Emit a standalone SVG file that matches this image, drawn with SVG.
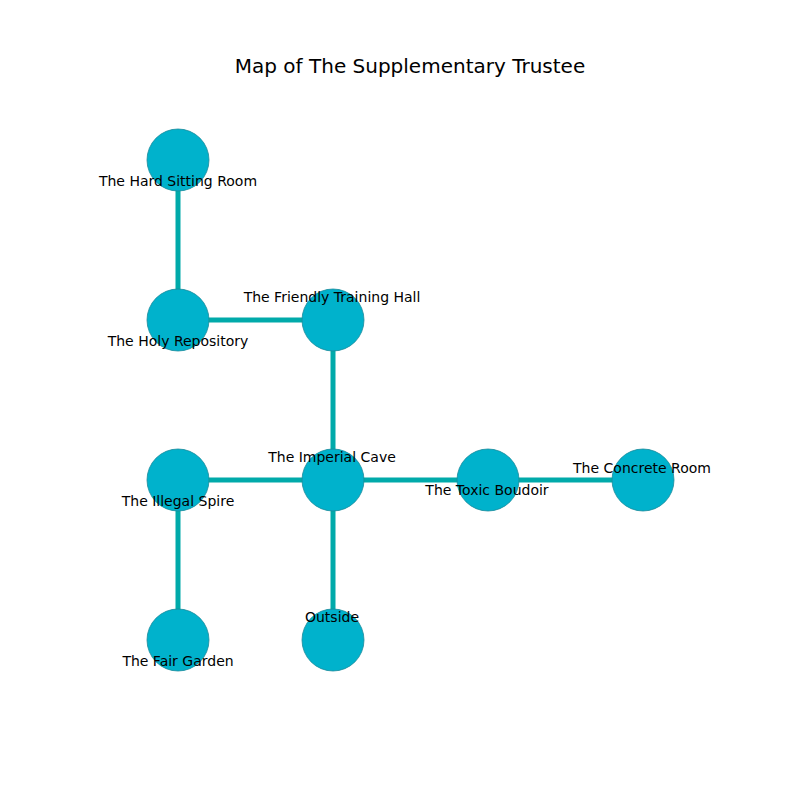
<svg xmlns="http://www.w3.org/2000/svg" width="800" height="800" viewBox="0 0 800 800">
<style>
.edge{stroke:#00aaaa;stroke-width:5;fill:none}
.node circle{fill:#00b2cc;stroke:#1a8a9a;stroke-width:0.8}
.lbl{font-family:"DejaVu Sans",sans-serif;font-size:14px;fill:#000;text-anchor:middle;dominant-baseline:central}
.title{font-family:"DejaVu Sans",sans-serif;font-size:20px;fill:#000;text-anchor:middle;dominant-baseline:central}
</style>
<rect width="800" height="800" fill="#fff"/>
<text class="title" x="410" y="66">Map of The Supplementary Trustee</text>
<g id="connectors">
<line class="edge" x1="178" y1="160" x2="178" y2="320"/>
<line class="edge" x1="178" y1="320" x2="333" y2="320"/>
<line class="edge" x1="333" y1="320" x2="333" y2="480"/>
<line class="edge" x1="178" y1="480" x2="333" y2="480"/>
<line class="edge" x1="333" y1="480" x2="488" y2="480"/>
<line class="edge" x1="488" y1="480" x2="643" y2="480"/>
<line class="edge" x1="178" y1="480" x2="178" y2="640"/>
<line class="edge" x1="333" y1="480" x2="333" y2="640"/>
</g>
<g id="hard-sitting-room" class="node"><circle cx="178" cy="160" r="31"/></g>
<g id="holy-repository" class="node"><circle cx="178" cy="320" r="31"/></g>
<g id="friendly-training-hall" class="node"><circle cx="333" cy="320" r="31"/></g>
<g id="illegal-spire" class="node"><circle cx="178" cy="480" r="31"/></g>
<g id="imperial-cave" class="node"><circle cx="333" cy="480" r="31"/></g>
<g id="toxic-boudoir" class="node"><circle cx="488" cy="480" r="31"/></g>
<g id="concrete-room" class="node"><circle cx="643" cy="480" r="31"/></g>
<g id="fair-garden" class="node"><circle cx="178" cy="640" r="31"/></g>
<g id="outside" class="node"><circle cx="333" cy="640" r="31"/></g>
<g id="labels">
<text class="lbl" x="178" y="181">The Hard Sitting Room</text>
<text class="lbl" x="178" y="341">The Holy Repository</text>
<text class="lbl" x="332" y="297">The Friendly Training Hall</text>
<text class="lbl" x="332" y="457">The Imperial Cave</text>
<text class="lbl" x="487" y="490">The Toxic Boudoir</text>
<text class="lbl" x="642" y="468">The Concrete Room</text>
<text class="lbl" x="178" y="501">The Illegal Spire</text>
<text class="lbl" x="332" y="617">Outside</text>
<text class="lbl" x="178" y="661">The Fair Garden</text>
</g>
</svg>
